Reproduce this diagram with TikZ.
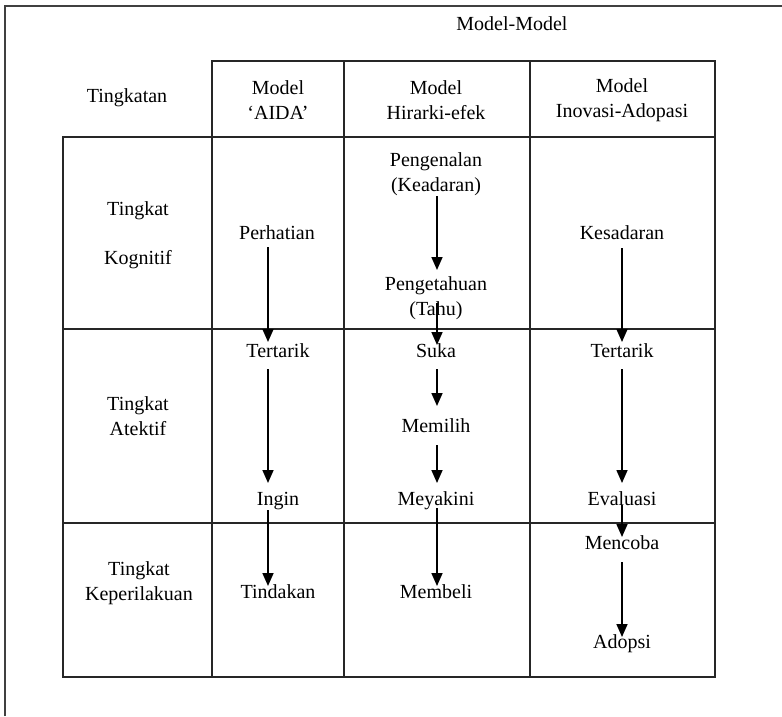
\documentclass[tikz,border=0pt]{standalone}
\usepackage{fontspec}
\setmainfont{Liberation Serif}
\usetikzlibrary{arrows.meta}
\begin{document}
\begin{tikzpicture}[x=1pt,y=-1pt,
  grid/.style={line width=1.2pt, draw=black!85},
  frame/.style={line width=1.2pt, draw=black!75},
  word/.style={font=\fontsize{20}{25}\selectfont, inner sep=0pt, text height=14pt, text depth=4pt},
  lines/.style={font=\fontsize{20}{25}\selectfont, inner sep=0pt, align=center},
  arr/.style={line width=1.6pt, -{Triangle[length=13pt,width=11pt]}}]
\useasboundingbox (0,0) rectangle (782,716);

% outer frame, open to the right and bottom
\draw[frame] (5,716) -- (5,6) -- (782,6);

% header cells
\draw[grid] (212,61) rectangle (715,137);
\draw[grid] (344,61) -- (344,137) (530,61) -- (530,137);

% body grid
\draw[grid] (63,137) rectangle (715,677);
\draw[grid] (212,137) -- (212,677) (344,137) -- (344,677) (530,137) -- (530,677);
\draw[grid] (63,329) -- (715,329) (63,523) -- (715,523);

% headings
\node[word] (mm) at (512,25) {Model-Model};
\node[word] (tk) at (127,97) {Tingkatan};
\node[lines] (hA) at (278,100) {Model\\‘AIDA’};
\node[lines] (hH) at (436,100) {Model\\Hirarki-efek};
\node[lines] (hI) at (622,100) {Model\\Inovasi-Adopasi};

% row labels
\node[lines] (k1) at (138,235) {Tingkat\\[24pt]Kognitif};
\node[lines] (k2) at (138,416) {Tingkat\\Atektif};
\node[lines] (k3) at (139,583) {Tingkat\\Keperilakuan};

% AIDA stages
\node[word] (a1) at (277,234) {Perhatian};
\node[word] (a2) at (278,352) {Tertarik};
\node[word] (a3) at (278,500) {Ingin};
\node[word] (a4) at (278,593) {Tindakan};

% hierarchy-of-effects stages
\node[lines] (h1) at (436,174) {Pengenalan\\(Keadaran)};
\node[lines] (h2) at (436,298) {Pengetahuan\\(Tahu)};
\node[word] (h3) at (436,352) {Suka};
\node[word] (h4) at (436,427) {Memilih};
\node[word] (h5) at (436,500) {Meyakini};
\node[word] (h6) at (436,593) {Membeli};

% innovation-adoption stages
\node[word] (i1) at (622,234) {Kesadaran};
\node[word] (i2) at (622,352) {Tertarik};
\node[word] (i3) at (622,500) {Evaluasi};
\node[word] (i4) at (622,544) {Mencoba};
\node[word] (i5) at (622,643) {Adopsi};

% AIDA flow
\draw[arr] ([shift={(-9,13)}]a1.center) -- ([shift={(-10,-10)}]a2.center);
\draw[arr] ([shift={(-10,17)}]a2.center) -- ([shift={(-10,-17)}]a3.center);
\draw[arr] ([shift={(-10,10)}]a3.center) -- ([shift={(-10,-7)}]a4.center);

% hierarchy flow
\draw[arr] ([shift={(1,22)}]h1.center) -- ([shift={(1,-28)}]h2.center);
\draw[arr] ([shift={(1,5)}]h2.center) -- ([shift={(1,-7)}]h3.center);
\draw[arr] ([shift={(1,17)}]h3.center) -- ([shift={(1,-21)}]h4.center);
\draw[arr] ([shift={(1,18)}]h4.center) -- ([shift={(1,-17)}]h5.center);
\draw[arr] ([shift={(1,8)}]h5.center) -- ([shift={(1,-7)}]h6.center);

% adoption flow
\draw[arr] ([shift={(0,14)}]i1.center) -- ([shift={(0,-10)}]i2.center);
\draw[arr] ([shift={(0,17)}]i2.center) -- ([shift={(0,-17)}]i3.center);
\draw[arr] ([shift={(0,5)}]i3.center) -- ([shift={(0,-7)}]i4.center);
\draw[arr] ([shift={(0,18)}]i4.center) -- ([shift={(0,-6)}]i5.center);
\end{tikzpicture}
\end{document}
